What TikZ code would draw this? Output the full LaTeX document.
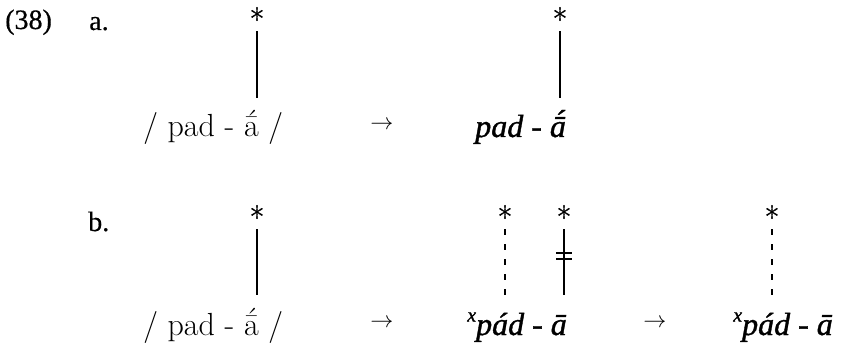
\documentclass[tikz,border=0pt]{standalone}
\usepackage{fontspec}
\setmainfont{Latin Modern Roman}
\newfontfamily\starfont{Latin Modern Roman}[FakeBold=1]
\newfontfamily\chfont{Liberation Serif}[FakeBold=0.5]
\newfontfamily\chit{Liberation Serif}[ItalicFeatures={FakeBold=1.2}]
\newcommand\amacac{\ooalign{ā\cr\hidewidth\raisebox{0.15em}{´}\hidewidth\cr}}
\newcommand\amacacit{\ooalign{ā\cr\hidewidth\kern0.1em\raisebox{0.15em}{´}\hidewidth\cr}}
\newcommand\supx{\raisebox{0.42em}{\fontsize{15}{17}\selectfont x}}
\begin{document}
\begin{tikzpicture}[x=0.75pt,y=-0.75pt,
  lmtext/.style={inner sep=0,anchor=base west,font=\fontsize{24}{28}\selectfont},
  ittext/.style={inner sep=0,anchor=base west,font=\fontsize{24}{28}\selectfont\chit\itshape},
  labtext/.style={inner sep=0,anchor=base west,font=\fontsize{21}{24}\selectfont\chfont},
  lmstar/.style={inner sep=0,anchor=base,font=\fontsize{24}{28}\selectfont\starfont},
  arr/.style={inner sep=0,font=\fontsize{19}{23}\selectfont},
  assoc/.style={line width=0.9pt},
  dassoc/.style={line width=0.9pt,dash pattern=on 4.5pt off 6.75pt},
  bar/.style={line width=0.9pt}]
\useasboundingbox (0,0) rectangle (841,349);
% labels
\node[labtext] (n38) at (5,29) {(38)};
\node[labtext] (la) at (89,30) {a.};
\node[labtext] (lb) at (88,231) {b.};
% row a
\node[lmtext] (ta1) at (143,137) {/ pad - \amacac{} /};
\node[lmstar] (sa1) at (257,31) {*};
\coordinate (ea1) at (257,98);
\draw[assoc] (sa1.south) -- (ea1);
\node[arr] (aa1) at (382,125) {$\rightarrow$};
\node[ittext] (ta2) at (475,137) {pad - \amacacit};
\node[lmstar] (sa2) at (560,31) {*};
\coordinate (ea2) at (560,98);
\draw[assoc] (sa2.south) -- (ea2);
% row b
\node[lmtext] (tb1) at (143,335) {/ pad - \amacac{} /};
\node[lmstar] (sb1) at (257,229) {*};
\coordinate (eb1) at (257,295);
\draw[assoc] (sb1.south) -- (eb1);
\node[arr] (ab1) at (382,323) {$\rightarrow$};
\node[ittext] (tb2) at (467,335) {\supx pád - ā};
\node[lmstar] (sb2) at (505,229) {*};
\coordinate (eb2) at (505,295);
\draw[dassoc] (sb2.south) -- (eb2);
\node[lmstar] (sb3) at (564,229) {*};
\coordinate (eb3) at (564,295);
\draw[assoc] (sb3.south) -- (eb3);
\coordinate (bm) at (564,256);
\draw[bar] ([shift={(-8,-3)}]bm) -- ([shift={(8,-3)}]bm);
\draw[bar] ([shift={(-8,3)}]bm) -- ([shift={(8,3)}]bm);
\node[arr] (ab2) at (655,323) {$\rightarrow$};
\node[ittext] (tb3) at (733,335) {\supx pád - ā};
\node[lmstar] (sb4) at (772,229) {*};
\coordinate (eb4) at (772,295);
\draw[dassoc] (sb4.south) -- (eb4);
\end{tikzpicture}
\end{document}
